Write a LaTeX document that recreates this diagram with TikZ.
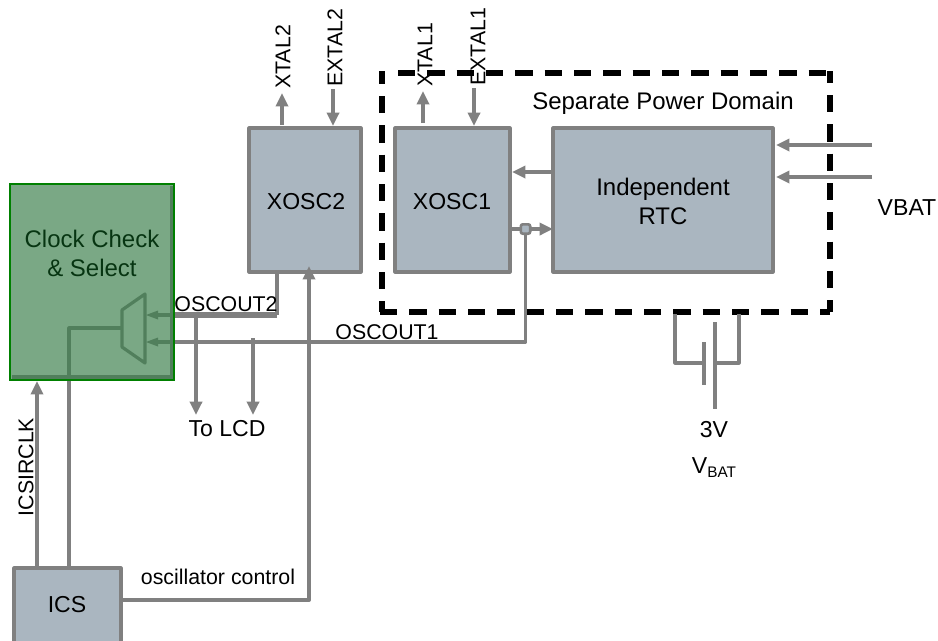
\documentclass[tikz,border=0pt]{standalone}
\usepackage{fontspec}
\setmainfont{Liberation Sans}
\usetikzlibrary{arrows.meta}
\definecolor{wire}{RGB}{128,128,128}
\definecolor{wirein}{RGB}{165,165,165}
\definecolor{blockfill}{RGB}{170,182,192}
\definecolor{greenfill}{RGB}{13,97,33}
\definecolor{greenline}{RGB}{0,128,0}
\tikzset{
  x=0.75pt,y=-0.75pt,
  block/.style={draw=wire,fill=blockfill,line width=2.3pt,line join=round,anchor=north west,inner sep=0pt,outer sep=0pt},
  wr/.style={draw=wire,line width=2.8pt,line join=round},
  ar/.style={wr,-{Triangle[length=10pt,width=9pt]}},
  domaindash/.style={draw=black,line width=4pt,dash pattern=on 13pt off 9pt},
  big/.style={font=\fontsize{18pt}{21.7pt}\selectfont,inner sep=0pt,align=center},
  lab/.style={font=\fontsize{17.3pt}{21pt}\selectfont,inner sep=0pt,align=center},
  small/.style={font=\fontsize{16pt}{18pt}\selectfont,inner sep=0pt},
}
\newcommand{\blk}[5]{\node[block,minimum width=#4*0.75pt,minimum height=#5*0.75pt] (#1) at (#2,#3) {};}
\begin{document}
\begin{tikzpicture}
\useasboundingbox (0,0) rectangle (938,640);
\fill[white] (0,0) rectangle (938,640);
% dashed domain
\coordinate (dtl) at (382,73);
\coordinate (dtr) at (830,73);
\coordinate (dbl) at (382,312);
\coordinate (dbr) at (830,312);
\draw[domaindash] (398,73) -- (dtr);
\draw[domaindash,dash phase=4pt] (830,71) -- (dbr);
\draw[domaindash,dash phase=3.25pt] (382,71) -- (dbl);
\draw[domaindash] (380,312) -- (dbr);
% blocks
\blk{xoscb}{249}{128}{112}{144}
\blk{xosca}{395}{128}{115}{144}
\blk{rtc}{553}{128}{220}{144}
\blk{ics}{14}{568}{107}{78}
\node[lab] (xoscbt) at (306,202) {XOSC2};
\node[lab] (xoscat) at (452,202) {XOSC1};
\node[big] (rtct) at (663,201) {Independent\\RTC};
\node[lab] (icst) at (67,605) {ICS};
% top arrows
\coordinate (xt2b) at (282,125); \coordinate (xt2e) at (282,93);
\coordinate (ex2b) at (333,126); \coordinate (ex2e) at (333,89);
\coordinate (xt1b) at (423,123); \coordinate (xt1e) at (423,91);
\coordinate (ex1b) at (474,126); \coordinate (ex1e) at (474,88);
\draw[ar,line width=3.3pt] (xt2b) -- (xt2e);
\draw[ar,line width=3.3pt] (ex2e) -- (ex2b);
\draw[ar,line width=3.3pt] (xt1b) -- (xt1e);
\draw[ar,line width=3.3pt] (ex1e) -- (ex1b);
\node[small,rotate=90,anchor=west] (xtal2) at (283,89) {XTAL2};
\node[small,rotate=90,anchor=west] (extal2) at (335,87) {EXTAL2};
\node[small,rotate=90,anchor=west] (xtal1) at (425,87) {XTAL1};
\node[small,rotate=90,anchor=west] (extal1) at (478,86) {EXTAL1};
\node[big] (domlab) at (663,103) {Separate Power Domain};
% VBAT inputs
\coordinate (va) at (872,145); \coordinate (vb) at (872,177);
\draw[ar] (va) -- (776,145);
\draw[ar] (vb) -- (776,177);
\node[lab] (vbat) at (907,208) {VBAT};
% inner
\draw[ar] (rtc.west |- 0,172) -- (512,172);
\draw[ar] (xosca.east |- 0,229) -- (rtc.west |- 0,229);
\node[draw=wire,fill=blockfill,line width=2pt,rounded corners=1.5pt,minimum size=7pt,inner sep=0pt,outer sep=0pt] (junction) at (525.5,229) {};
% oscout
\coordinate (o2) at (277,315);
\coordinate (o1) at (525.5,342);
\coordinate (ga) at (174,315);
\coordinate (gb) at (174,342);
\draw[wr,line width=2.3pt] (xoscb.south -| o2) -- (o2);
\draw[wr,line width=4pt] (o2) -- (ga);
\draw[wr] (junction.south) -- (o1) -- (gb);
\draw[draw=wirein,line width=3pt] (ga) -- (154,315);
\draw[draw=wirein,line width=2.8pt] (gb) -- (154,342);
\fill[wirein] (146,315) -- (158,310.5) -- (158,319.5) -- cycle;
\fill[wirein] (146,342) -- (158,337.5) -- (158,346.5) -- cycle;
\coordinate (lcda) at (196,315); \coordinate (lcdb) at (253,338);
\draw[ar] (lcda) -- (196,415);
\draw[ar] (lcdb) -- (253,415);
\node[lab] (lcd) at (227,429) {To LCD};
\node[small] (os2) at (226,304) {OSCOUT2};
\node[small] (os1) at (387,332) {OSCOUT1};
% osc control
\draw[ar,line width=3pt] (ics.east |- 0,600) -- (309,600) -- (309,266);
\node[small] (oc) at (218,577) {oscillator control};
% ics
\draw[ar] (37,568) -- (37,381);
\node[small,rotate=90] (icsirc) at (26,467) {ICSIRCLK};
% mux and select line
\coordinate (sel) at (122,328);
\draw[wr] (69,568) -- (69,380);
\draw[draw=wirein,line width=2.3pt,line join=round] (69,380) -- (69,328) -- (sel);
\draw[draw=wirein,line width=2.4pt,line join=round] (122,310) -- (145,294) -- (145,363) -- (122,347) -- cycle;
\draw[draw=wirein,line width=2.4pt] (171.5,186) -- (171.5,377) -- (12,377);
\node[big] (cc) at (92,253.5) {Clock Check\\\& Select};
% green overlay
\node[anchor=north west,fill=greenfill,fill opacity=.55,minimum width=164*0.75pt,minimum height=196*0.75pt,inner sep=0pt,outer sep=0pt] (clock) at (10,184) {};
\draw[draw=greenline,line width=1.5pt] (clock.north west) rectangle (clock.south east);
% battery
\coordinate (bl) at (675,314); \coordinate (br) at (739,314);
\draw[wr,line width=2.3pt] (bl) -- (675,363) -- (704,363);
\draw[wr,line width=2.3pt] (704,342) -- (704,385);
\draw[wr,line width=2.3pt] (715,322) -- (715,409);
\draw[wr,line width=2.3pt] (715,363) -- (739,363) -- (br);
\node[lab] (v3) at (714,430) {3V};
\node[lab] (vb2) at (714,468) {V\raisebox{-3pt}{\fontsize{11.5pt}{12pt}\selectfont BAT}};
\end{tikzpicture}
\end{document}
